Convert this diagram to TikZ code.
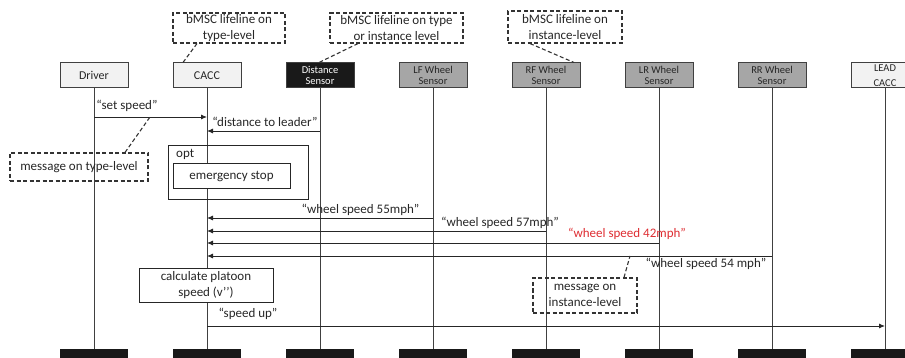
\documentclass[tikz,border=0pt]{standalone}
\usepackage{fontspec}
\setmainfont{Carlito}
\usepackage{tikz}
\usetikzlibrary{positioning,arrows.meta}
\definecolor{headfill}{RGB}{242,242,242}
\definecolor{sensorfill}{RGB}{166,166,166}
\definecolor{linegray}{RGB}{64,64,64}
\definecolor{msgred}{RGB}{222,45,50}
\tikzstyle{head}=[%
      rectangle, draw=linegray, line width=1pt, fill=headfill, text=black!85,
      minimum height=25pt, minimum width=68pt, inner sep=1pt, align=center,
      font=\fontsize{12}{14}\selectfont
]
\tikzstyle{sensor}=[%
      head, fill=sensorfill, font=\fontsize{10.5}{11.5}\selectfont
]
\tikzstyle{tail}=[%
      rectangle, fill=black!90, minimum height=20pt, minimum width=68pt, inner sep=0pt
]
\tikzstyle{note}=[%
      rectangle, draw=black!80, line width=1.1pt, dash pattern=on 4pt off 2.5pt,
      text=black!85, inner sep=1pt, align=center, font=\fontsize{13}{16}\selectfont
]
\tikzstyle{action}=[%
      rectangle, draw=black!85, line width=1pt, fill=white, text=black!85,
      inner sep=1pt, align=center, font=\fontsize{13}{16}\selectfont
]
\tikzstyle{lbl}=[%
      text=black!85, inner sep=0pt, font=\fontsize{13}{15}\selectfont
]
\tikzstyle{life}=[draw=linegray, line width=0.9pt]
\tikzstyle{msg}=[draw=black!85, line width=0.9pt, -{Latex[length=6pt,width=5pt]}]
\tikzstyle{hint}=[draw=black!80, line width=1.1pt, dash pattern=on 4pt off 2.5pt]

\begin{document}
\begin{tikzpicture}[x=1pt, y=-1pt, node distance=44pt]
    \useasboundingbox (0,0) rectangle (905,358);

    % lifeline heads
    \node[head]   (driver)                    at (94,75.5) {Driver};
    \node[head]   (cacc)   [right = of driver] {CACC};
    \node[sensor, fill=black!90, text=white]
                  (dist)   [right = of cacc]  {Distance\\Sensor};
    \node[sensor] (lf)     [right = of dist]  {LF Wheel\\Sensor};
    \node[sensor] (rf)     [right = of lf]    {RF Wheel\\Sensor};
    \node[sensor] (lr)     [right = of rf]    {LR Wheel\\Sensor};
    \node[sensor] (rr)     [right = of lr]    {RR Wheel\\Sensor};
    \node[head, font=\fontsize{10.5}{15}\selectfont]
                  (lead)   [right = of rr]    {LEAD\\CACC};

    % lifeline ends
    \node[tail] (driverEnd) at (driver |- 0,359) {};
    \node[tail] (caccEnd)   at (cacc |- 0,359)   {};
    \node[tail] (distEnd)   at (dist |- 0,359)   {};
    \node[tail] (lfEnd)     at (lf |- 0,359)     {};
    \node[tail] (rfEnd)     at (rf |- 0,359)     {};
    \node[tail] (lrEnd)     at (lr |- 0,359)     {};
    \node[tail] (rrEnd)     at (rr |- 0,359)     {};
    \node[tail] (leadEnd)   at (lead |- 0,359)   {};

    \draw[life] (driver.south) -- (driverEnd.north);
    \draw[life] (cacc.south) -- (caccEnd.north);
    \draw[life] (dist.south) -- (distEnd.north);
    \draw[life] (lf.south) -- (lfEnd.north);
    \draw[life] (rf.south) -- (rfEnd.north);
    \draw[life] (lr.south) -- (lrEnd.north);
    \draw[life] (rr.south) -- (rrEnd.north);
    \draw[life] (lead.south) -- (leadEnd.north);

    % opt fragment and actions
    \node[action, fill=none, minimum width=140pt, minimum height=54pt] (opt) at (238,173) {};
    \node[lbl, anchor=north west] (optLbl) at (176,149) {opt};
    \node[action, minimum width=117pt, minimum height=25pt] (stop) at (231.5,176.5) {emergency stop};
    \node[action, minimum width=134pt, minimum height=34pt] (calc) at (206,285) {calculate platoon\\speed (v’’)};

    % messages
    \draw[msg] (driver |- 0,117) -- (cacc |- 0,117);
    \draw[msg] (dist |- 0,131)   -- (cacc |- 0,131);
    \draw[msg] (lf |- 0,218)     -- (cacc |- 0,218);
    \draw[msg] (rf |- 0,231)     -- (cacc |- 0,231);
    \draw[msg] (lr |- 0,243)     -- (cacc |- 0,243);
    \draw[msg] (rr |- 0,256)     -- (cacc |- 0,256);
    \draw[msg] (cacc |- 0,326)   -- (lead |- 0,326);

    \node[lbl] (setLbl)   at (127,106)  {“set speed”};
    \node[lbl] (distLbl)  at (265,122)  {“distance to leader”};
    \node[lbl] (w55Lbl)   at (360.5,210) {“wheel speed 55mph”};
    \node[lbl] (w57Lbl)   at (500,223)  {“wheel speed 57mph”};
    \node[lbl, text=msgred] (w42Lbl) at (627,234) {“wheel speed 42mph”};
    \node[lbl] (w54Lbl)   at (706,264)  {“wheel speed 54 mph”};
    \node[lbl] (upLbl)    at (248,314)  {“speed up”};

    % comments
    \node[note, minimum width=112pt, minimum height=30pt] (typeNote) at (229,28) {bMSC lifeline on\\type-level};
    \node[note, minimum width=133pt, minimum height=30pt] (anyNote)  at (396.5,28) {bMSC lifeline on type\\or instance level};
    \node[note, minimum width=114pt, minimum height=32pt] (instNote) at (565,27) {bMSC lifeline on\\instance-level};
    \node[note, minimum width=138pt, minimum height=28pt] (typeMsgNote) at (79,167) {message on type-level};
    \node[note, minimum width=104pt, minimum height=35pt] (instMsgNote) at (585,295.5) {message on\\instance-level};

    \coordinate (setHint)  at (150,117);
    \coordinate (w54Hint)  at (630,256);

    \draw[hint] ([xshift=-32pt]typeNote.south)  -- ([xshift=-24pt]cacc.north);
    \draw[hint] ([xshift=-38.5pt]anyNote.south) -- ([xshift=-1pt]dist.north);
    \draw[hint] ([xshift=-35pt]instNote.south)  -- ([xshift=28pt]rf.north);
    \draw[hint] ([xshift=46pt]typeMsgNote.north) -- (setHint);
    \draw[hint] ([xshift=39pt]instMsgNote.north) -- (w54Hint);
\end{tikzpicture}
\end{document}
